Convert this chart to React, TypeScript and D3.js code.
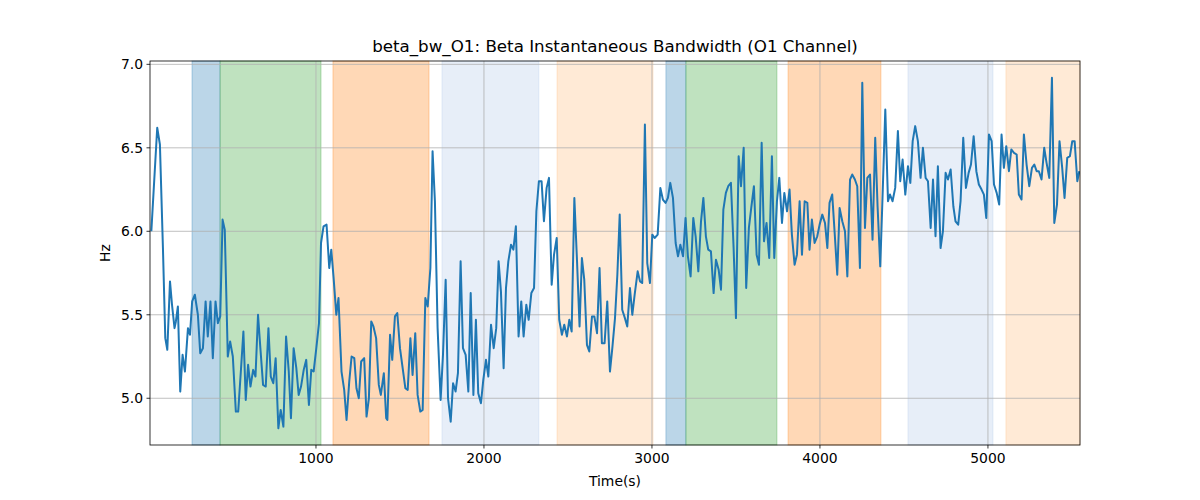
import React from "react";
import * as d3 from "d3";

const times = [20,55,71,89,103,115,131,143,158,166,178,192,206,220,238,250,263,279,297,311,327,343,356,372,386,402,416,430,444,457,475,489,505,523,537,554,568,582,596,610,626,640,655,669,685,701,717,731,746,760,776,790,806,822,838,851,867,883,897,911,927,942,958,972,986,1002,1018,1030,1045,1063,1079,1091,1105,1121,1134,1152,1168,1182,1198,1212,1228,1241,1255,1269,1287,1301,1315,1329,1342,1358,1374,1386,1404,1418,1425,1441,1454,1470,1484,1500,1516,1532,1546,1562,1575,1591,1605,1621,1635,1651,1665,1681,1694,1708,1724,1742,1756,1772,1786,1802,1816,1831,1845,1861,1875,1891,1907,1921,1937,1952,1966,1982,1996,2012,2026,2042,2058,2073,2087,2101,2117,2131,2145,2161,2175,2190,2206,2222,2236,2252,2266,2282,2298,2312,2327,2343,2357,2373,2387,2403,2417,2433,2448,2464,2478,2494,2508,2522,2538,2554,2569,2583,2597,2613,2627,2643,2657,2673,2688,2702,2718,2734,2750,2764,2780,2794,2808,2823,2839,2853,2869,2883,2897,2915,2929,2942,2958,2972,2988,3002,3016,3034,3050,3065,3081,3095,3109,3125,3141,3155,3169,3185,3200,3214,3230,3246,3260,3276,3292,3306,3321,3335,3351,3367,3381,3397,3411,3425,3440,3454,3470,3486,3500,3516,3530,3546,3561,3577,3591,3607,3623,3637,3653,3667,3682,3698,3714,3728,3744,3758,3774,3788,3804,3819,3833,3849,3863,3879,3893,3909,3925,3938,3952,3968,3984,3998,4014,4030,4044,4057,4073,4087,4103,4117,4133,4149,4163,4179,4192,4208,4222,4238,4252,4268,4282,4298,4313,4329,4343,4359,4373,4389,4405,4417,4432,4448,4464,4478,4492,4508,4524,4538,4552,4567,4583,4599,4613,4629,4643,4659,4673,4688,4702,4718,4732,4748,4762,4778,4794,4807,4823,4837,4853,4869,4885,4899,4915,4931,4946,4962,4976,4990,5006,5022,5036,5052,5067,5081,5095,5109,5125,5139,5155,5171,5184,5200,5214,5230,5246,5262,5276,5290,5303,5319,5335,5349,5365,5381,5395,5411,5426,5442,5456,5472,5488,5502,5516,5532,5544];
const values = [6.0,6.62,6.52,5.9,5.36,5.29,5.70,5.56,5.42,5.46,5.55,5.04,5.26,5.16,5.42,5.38,5.58,5.62,5.50,5.27,5.30,5.58,5.37,5.58,5.24,5.58,5.45,5.49,6.07,6.01,5.25,5.34,5.25,4.92,4.92,5.18,5.40,4.99,5.20,5.07,5.17,5.13,5.50,5.30,5.08,5.07,5.42,5.13,5.09,5.24,4.82,4.93,4.83,5.37,5.16,4.88,5.30,5.18,5.02,5.07,5.17,5.23,4.96,5.17,5.16,5.30,5.45,5.93,6.03,6.04,5.78,5.89,5.72,5.50,5.60,5.16,5.05,4.87,5.10,5.25,5.24,5.06,5.00,5.22,5.24,4.89,5.00,5.46,5.43,5.36,5.08,5.02,5.15,4.88,4.87,5.38,5.23,5.49,5.51,5.30,5.18,5.06,5.05,5.36,5.14,5.39,5.02,4.92,4.93,5.60,5.55,5.78,6.48,6.18,5.42,4.99,5.26,5.71,5.00,4.86,5.09,5.04,5.15,5.82,5.30,5.26,5.04,5.63,5.02,5.47,5.03,4.97,5.11,5.23,5.13,5.44,5.30,5.42,5.82,5.64,5.18,5.66,5.82,5.92,5.89,6.03,5.37,5.58,5.37,5.56,5.47,5.63,5.66,6.12,6.30,6.30,6.06,6.26,6.32,5.68,5.86,5.96,5.47,5.38,5.44,5.37,5.47,5.40,6.20,5.82,5.43,5.84,5.71,5.32,5.28,5.49,5.49,5.39,5.78,5.33,5.33,5.58,5.16,5.30,5.48,5.74,6.10,5.53,5.48,5.43,5.66,5.50,5.62,5.76,5.70,5.69,6.64,5.81,5.69,5.98,5.96,5.98,6.26,6.19,6.17,6.20,6.29,6.20,5.93,5.85,5.92,5.85,6.08,5.85,5.73,6.08,5.97,5.76,6.06,6.20,5.97,5.89,5.88,5.63,5.83,5.77,5.65,6.13,6.23,6.27,6.29,5.90,5.48,6.45,6.27,6.50,5.66,6.02,6.14,6.27,5.86,5.80,6.53,5.94,6.05,5.84,6.45,5.84,6.18,6.32,6.05,6.23,6.12,6.25,5.98,5.80,5.86,6.18,5.86,6.18,6.17,5.89,6.07,5.93,5.97,6.04,6.10,6.05,5.90,6.17,6.22,6.00,5.74,6.14,6.06,6.00,5.73,6.31,6.34,6.31,6.27,5.78,6.89,6.02,6.32,6.34,5.95,6.56,6.15,5.79,6.22,6.73,6.18,6.22,6.18,6.26,6.60,6.30,6.43,6.22,6.39,6.29,6.54,6.63,6.54,6.32,6.50,6.32,6.30,6.02,6.31,5.97,6.39,5.90,6.00,6.35,6.31,6.37,6.15,6.06,6.04,6.18,6.56,6.26,6.35,6.40,6.57,6.36,6.28,6.25,6.22,6.08,6.58,6.54,6.28,6.23,6.16,6.58,6.38,6.51,6.36,6.49,6.47,6.46,6.22,6.19,6.58,6.40,6.27,6.38,6.40,6.36,6.36,6.31,6.50,6.41,6.32,6.92,6.05,6.16,6.54,6.38,6.20,6.44,6.45,6.54,6.54,6.30,6.36];

const spanStarts = [262,429,1101,1750,2435,3083,3202,3810,4524,5107];
const spanEnds = [429,1030,1673,2327,3006,3202,3744,4363,5030,5548];
const spanColors = ["#1f77b4","#2ca02c","#ff7f0e","#aec7e8","#ffbb78","#1f77b4","#2ca02c","#ff7f0e","#aec7e8","#ffbb78"];
const spanAlphas = [0.3,0.3,0.3,0.3,0.3,0.3,0.3,0.3,0.3,0.3];
const xTicks = [1000,2000,3000,4000,5000];
const yTicks = [5.0,5.5,6.0,6.5,7.0];

export default function App() {
  const L = 150, R = 1080, T = 61, B = 445;
  const x = d3.scaleLinear().domain([12, 5548]).range([L, R]);
  const y = d3.scaleLinear().domain([4.72, 7.02]).range([B, T]);
  const pts = times.map((t, i) => [t, values[i]] as [number, number]);
  const line = d3.line<[number, number]>().x(d => x(d[0])).y(d => y(d[1]))(pts) || "";
  const font = "DejaVu Sans, sans-serif";
  return (
    <svg width={1200} height={500} style={{ position: "absolute", left: 0, top: 0, background: "#fff" }} fontFamily={font}>
      <defs><clipPath id="c"><rect x={L} y={T} width={R - L} height={B - T} /></clipPath></defs>
      {spanStarts.map((s, i) => (
        <rect key={i} x={x(s)} y={T} width={x(spanEnds[i]) - x(s)} height={B - T} fill={spanColors[i]} fillOpacity={spanAlphas[i]} stroke={spanColors[i]} strokeOpacity={spanAlphas[i]} />
      ))}
      {xTicks.map(t => <line key={t} x1={x(t)} x2={x(t)} y1={T} y2={B} stroke="#b0b0b0" strokeWidth={0.8} />)}
      {yTicks.map(t => <line key={t} x1={L} x2={R} y1={y(t)} y2={y(t)} stroke="#b0b0b0" strokeWidth={0.8} />)}
      <path d={line} fill="none" stroke="#1f77b4" strokeWidth={2} strokeLinejoin="round" clipPath="url(#c)" />
      <rect x={L} y={T} width={R - L} height={B - T} fill="none" stroke="#000" strokeWidth={0.8} />
      {xTicks.map(t => (
        <g key={t}>
          <line x1={x(t)} x2={x(t)} y1={B} y2={B + 3.5} stroke="#000" strokeWidth={0.8} />
          <text x={x(t)} y={B + 18} fontSize={13.9} textAnchor="middle">{t}</text>
        </g>
      ))}
      {yTicks.map(t => (
        <g key={t}>
          <line x1={L - 3.5} x2={L} y1={y(t)} y2={y(t)} stroke="#000" strokeWidth={0.8} />
          <text x={L - 7} y={y(t) + 5} fontSize={13.9} textAnchor="end">{t.toFixed(1)}</text>
        </g>
      ))}
      <text x={(L + R) / 2} y={486} fontSize={13.9} textAnchor="middle">Time(s)</text>
      <text transform={`translate(110,${(T + B) / 2}) rotate(-90)`} fontSize={13.9} textAnchor="middle">Hz</text>
      <text x={(L + R) / 2} y={52} fontSize={16.7} textAnchor="middle">beta_bw_O1: Beta Instantaneous Bandwidth (O1 Channel)</text>
    </svg>
  );
}
